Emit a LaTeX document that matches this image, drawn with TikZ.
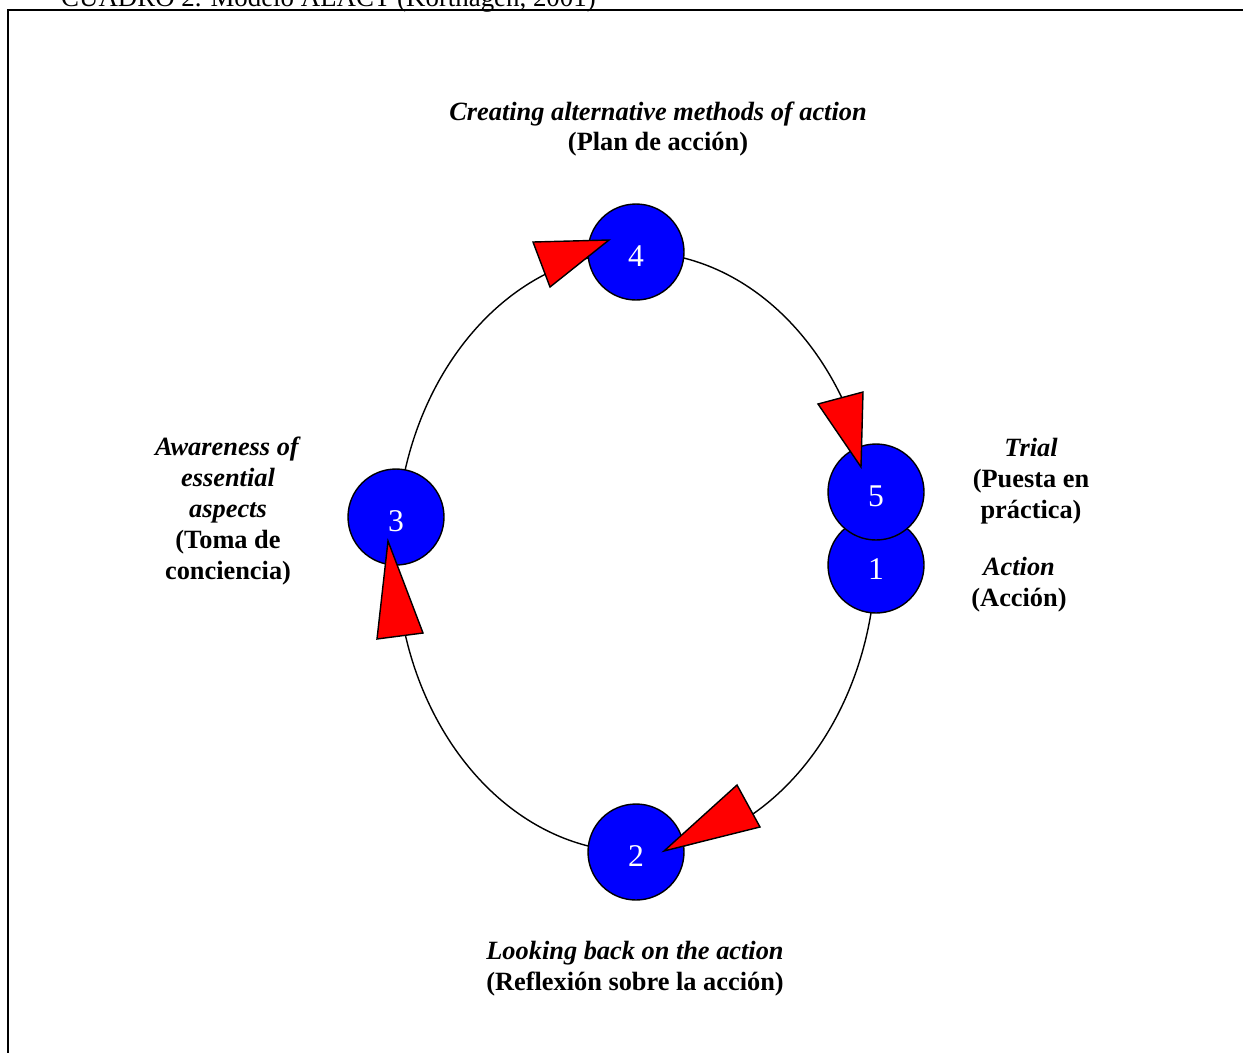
\documentclass[tikz,border=0pt]{standalone}
\usepackage{fontspec}
\setmainfont{Liberation Serif}
\usetikzlibrary{shapes.geometric}
\tikzstyle{stage} = [circle, draw=black, thick, fill=blue, text=white, minimum size=1.92cm, inner sep=0pt, font=\fontsize{18}{20}\selectfont]
\tikzstyle{lbl} = [align=center, font=\fontsize{15}{17.6}\selectfont\bfseries]
\tikzstyle{pointer} = [draw=black, fill=red, thick, line join=miter]
\newcommand{\stagenum}[1]{\raisebox{-8.3pt}[0pt][0pt]{#1}}
\begin{document}
\begin{tikzpicture}[x=0.02cm, y=-0.02cm]
      \useasboundingbox (0,0) rectangle (1243,1052);
      \node (caption) [anchor=base west, font=\fontsize{15.3}{17}\selectfont] at (55,6) {CUADRO 2. Modelo ALACT (Korthagen, 2001)};
      \draw [thick] (8,1070) -- (8,10) -- (1260,10);

      \coordinate (centre) at (636,552);
      \draw [line width=0.8pt] (centre) ellipse [x radius=4.8cm, y radius=6cm];

      \node (s4) [stage] at (636,252) {\stagenum{4}};
      \node (s1) [stage] at (876,565) {\stagenum{1}};
      \node (s5) [stage] at (876,492) {\stagenum{5}};
      \node (s3) [stage] at (396,517) {\stagenum{3}};
      \node (s2) [stage] at (636,852) {\stagenum{2}};

      \draw [pointer] (533,242) -- (609,240) -- (550,287) -- cycle;
      \draw [pointer] (818,404) -- (863,392) -- (861,467) -- cycle;
      \draw [pointer] (737,785) -- (760,827) -- (664,851) -- cycle;
      \draw [pointer] (388,541) -- (423,633) -- (377,639) -- cycle;

      \node (plan) [lbl] at (658,129) {\textit{Creating alternative methods of action}\\(Plan de acción)};
      \node (toma) [lbl] at (228,511) {\textit{Awareness of}\\\textit{essential}\\\textit{aspects}\\(Toma de\\conciencia)};
      \node (trial) [lbl] at (1031,481) {\textit{Trial}\\(Puesta en\\práctica)};
      \node (action) [lbl] at (1019,585) {\textit{Action}\\(Acción)};
      \node (review) [lbl] at (635,969) {\textit{Looking back on the action}\\(Reflexión sobre la acción)};
\end{tikzpicture}
\end{document}
